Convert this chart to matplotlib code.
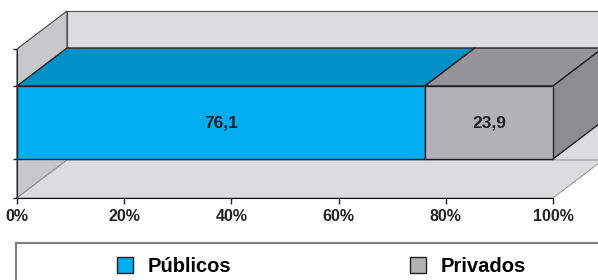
import matplotlib.pyplot as plt
from matplotlib.patches import Polygon, Rectangle

# datos
categorias = ['Públicos', 'Privados']
valores = [76.1, 23.9]
x_ticks = [0, 20, 40, 60, 80, 100]
x_labels = ['0%', '20%', '40%', '60%', '80%', '100%']

# colores (frente, arriba, lado)
col_frente = ['#00adef', '#b3b3b6']
col_arriba = ['#008fc6', '#959598']
col_lado = ['#0077a8', '#8d8d90']

plt.rcParams['font.family'] = ['Liberation Sans', 'DejaVu Sans']
plt.rcParams['font.weight'] = 'bold'

fig = plt.figure(figsize=(5.98, 2.80), dpi=100)
ax = fig.add_axes([17 / 598, 82 / 280, 536 / 598, 149 / 280])
ax.set_xlim(0, 100)
ax.set_ylim(0, 1)

# profundidad del efecto 3D en unidades de datos
dx = 50 / 536 * 100
dy = 38 / 149
y0, y1 = 39 / 149, 112 / 149  # base y tope de la barra

def poly(pts, fc, ec, lw=1.0, z=1):
    p = Polygon(pts, closed=True, facecolor=fc, edgecolor=ec, lw=lw,
                clip_on=False, zorder=z, joinstyle='miter')
    ax.add_patch(p)

# paredes
poly([(dx, dy), (100 + dx, dy), (100 + dx, 1 + dy), (dx, 1 + dy)], '#dcdcde', '#555555', 0.8)
poly([(0, 0), (dx, dy), (dx, 1 + dy), (0, 1)], '#c8c8ca', '#444444', 0.8)
poly([(0, 0), (100, 0), (100 + dx, dy), (dx, dy)], '#dcdcde', '#9a9a9a', 0.8)

# barras apiladas
izq = 0
for i, v in enumerate(valores):
    der = izq + v
    poly([(izq, y1), (der, y1), (der + dx, y1 + dy), (izq + dx, y1 + dy)],
         col_arriba[i], '#222222', 1.0, 3)
    poly([(izq, y0), (der, y0), (der, y1), (izq, y1)],
         col_frente[i], '#222222', 1.0, 4)
    if i == len(valores) - 1:
        poly([(der, y0), (der + dx, y0 + dy), (der + dx, y1 + dy), (der, y1)],
             col_lado[i], '#222222', 1.0, 3)
    ax.text((izq + der) / 2, (y0 + y1) / 2, f'{v:.1f}'.replace('.', ','),
            ha='center', va='center', fontsize=12.5, fontweight='bold',
            color='#222222', zorder=5)
    izq = der

# ejes
for s in ['top', 'right']:
    ax.spines[s].set_visible(False)
ax.spines['left'].set_color('#222222')
ax.spines['bottom'].set_color('#111111')
ax.spines['left'].set_zorder(6)
ax.spines['bottom'].set_zorder(6)
ax.set_xticks(x_ticks)
ax.set_xticklabels(x_labels, fontsize=11.5, fontweight='bold', color='#222222')
ax.set_yticks([0, y0, y1, 1])
ax.set_yticklabels([])
ax.tick_params(axis='x', length=4, width=1, pad=4, color='#222222')
ax.tick_params(axis='y', length=3, width=1, color='#222222')
ax.patch.set_visible(False)

# leyenda
marco = Rectangle((16 / 598, -0.2), 1.0, (37 / 280) + 0.2, transform=fig.transFigure,
                  fill=False, edgecolor='#808080', lw=1.5)
fig.add_artist(marco)
handles = [Rectangle((0, 0), 1, 1, facecolor=col_frente[i], edgecolor='#222222', lw=1)
           for i in range(len(categorias))]
fig.legend(handles, categorias, loc='center left', bbox_to_anchor=(117 / 598, 13.5 / 280),
           ncol=2, frameon=False, borderpad=0, borderaxespad=0,
           handlelength=0.8, handleheight=0.8, handletextpad=0.7,
           columnspacing=8.9, prop={'size': 14.5, 'weight': 'bold'})

fig.savefig('out.png', dpi=100)
